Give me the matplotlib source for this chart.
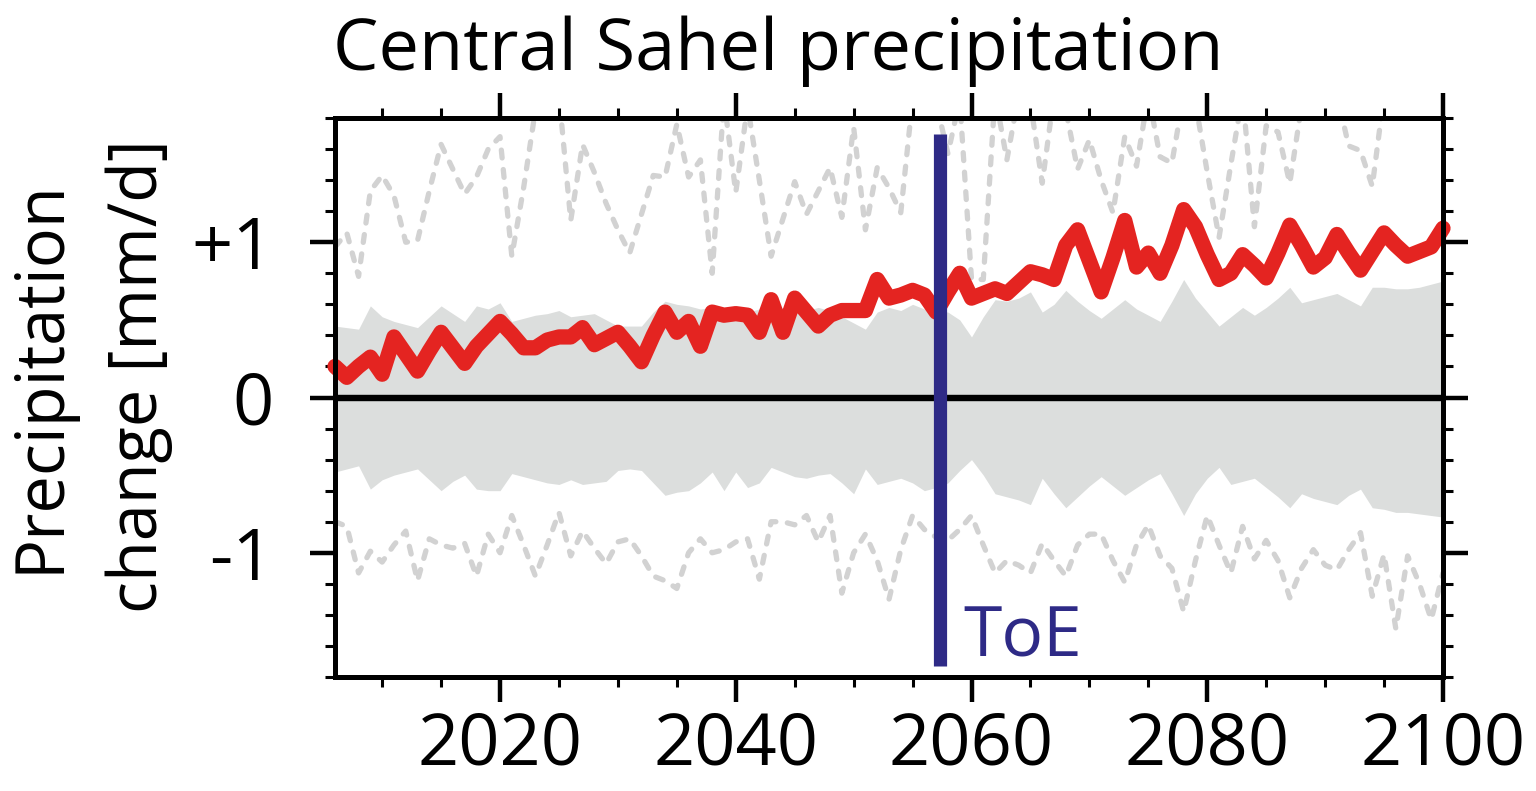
import numpy as np
import matplotlib
matplotlib.use("Agg")
import matplotlib.pyplot as plt
from matplotlib.ticker import MultipleLocator, FixedLocator, FixedFormatter

plt.rcParams['font.family'] = ['Open Sans', 'DejaVu Sans']

years = np.arange(2006, 2101)

# Multi-model mean precipitation change (mm/d)
mean_change = [
    0.20, 0.13, 0.20, 0.26,
    0.15, 0.39, 0.28, 0.17, 0.30, 0.42, 0.32, 0.22, 0.33, 0.41,
    0.49, 0.41, 0.32, 0.32, 0.37, 0.39, 0.39, 0.45, 0.34, 0.38,
    0.42, 0.33, 0.23, 0.40, 0.55, 0.42, 0.49, 0.33, 0.55, 0.53,
    0.54, 0.53, 0.42, 0.63, 0.42, 0.64, 0.55, 0.46, 0.53, 0.56,
    0.56, 0.56, 0.76, 0.64, 0.66, 0.69, 0.66, 0.55, 0.68, 0.80,
    0.64, 0.67, 0.70, 0.67, 0.74, 0.81, 0.79, 0.76, 0.98, 1.08,
    0.88, 0.68, 0.90, 1.14, 0.84, 0.93, 0.80, 0.98, 1.21, 1.10,
    0.92, 0.76, 0.80, 0.92, 0.85, 0.77, 0.93, 1.11, 0.98, 0.84,
    0.90, 1.05, 0.93, 0.82, 0.94, 1.06, 0.98, 0.91, 0.94, 0.97,
    1.09,
]

# Upper / lower extremes (dashed grey)
upper_extreme = [
    0.97, 1.06, 0.78, 1.33,
    1.43, 1.30, 1.00, 1.01, 1.33, 1.63, 1.47, 1.31, 1.42, 1.60,
    1.68, 0.91, 1.35, 1.85, 2.10, 1.95, 1.14, 1.63, 1.45, 1.25,
    1.08, 0.93, 1.18, 1.43, 1.42, 1.76, 1.42, 1.53, 0.80, 1.92,
    1.32, 1.88, 1.40, 0.91, 1.15, 1.39, 1.18, 1.33, 1.48, 1.16,
    1.74, 1.08, 1.48, 1.35, 1.19, 1.92, 2.00, 1.90, 1.57, 1.92,
    0.76, 0.76, 1.95, 1.53, 1.95, 1.90, 1.38, 1.95, 1.85, 1.47,
    1.66, 1.40, 1.19, 1.68, 1.49, 1.95, 1.55, 1.51, 1.95, 1.90,
    1.45, 1.03, 1.50, 1.95, 1.10, 1.75, 1.71, 1.38, 1.88, 2.00,
    2.10, 1.95, 1.62, 1.59, 1.36, 1.95, 2.00, 2.10, 2.00, 2.00,
    2.10,
]

lower_extreme = [
    -0.80, -0.83, -1.13, -0.99,
    -1.06, -0.95, -0.86, -1.18, -0.91, -0.95, -0.97, -0.94, -1.15, -0.88,
    -1.00, -0.76, -0.95, -1.15, -0.95, -0.74, -1.02, -0.86, -0.97, -1.07,
    -0.93, -0.91, -1.02, -1.15, -1.18, -1.23, -1.00, -0.91, -1.00, -0.98,
    -0.93, -0.91, -1.17, -0.80, -0.80, -0.82, -0.76, -0.93, -0.76, -1.26,
    -1.00, -0.88, -1.05, -1.30, -0.98, -0.76, -0.85, -0.90, -0.92, -0.85,
    -0.76, -0.95, -1.13, -1.05, -1.08, -1.13, -0.94, -1.05, -1.15, -0.95,
    -0.88, -0.88, -1.05, -1.19, -0.95, -0.82, -1.02, -1.10, -1.38, -1.05,
    -0.76, -0.95, -1.13, -0.83, -1.04, -0.92, -1.05, -1.29, -1.10, -0.98,
    -1.08, -1.11, -0.98, -0.87, -1.28, -1.01, -1.49, -1.02, -1.20, -1.43,
    -1.13,
]

# Internal variability envelope (grey band)
band_upper = [
    0.46, 0.45, 0.44, 0.59,
    0.52, 0.49, 0.47, 0.45, 0.52, 0.59, 0.54, 0.49, 0.59, 0.57,
    0.61, 0.49, 0.51, 0.53, 0.54, 0.56, 0.52, 0.53, 0.54, 0.50,
    0.46, 0.46, 0.46, 0.55, 0.62, 0.60, 0.59, 0.57, 0.58, 0.56,
    0.58, 0.55, 0.57, 0.56, 0.58, 0.55, 0.56, 0.58, 0.56, 0.52,
    0.48, 0.44, 0.55, 0.58, 0.56, 0.60, 0.57, 0.56, 0.55, 0.50,
    0.39, 0.52, 0.63, 0.62, 0.64, 0.68, 0.55, 0.60, 0.69, 0.62,
    0.56, 0.51, 0.57, 0.63, 0.57, 0.53, 0.49, 0.62, 0.76, 0.64,
    0.55, 0.46, 0.52, 0.58, 0.53, 0.58, 0.64, 0.71, 0.61, 0.63,
    0.65, 0.67, 0.63, 0.59, 0.71, 0.71, 0.70, 0.70, 0.71, 0.73,
    0.75,
]

band_lower = [
    -0.48, -0.46, -0.44, -0.59,
    -0.53, -0.50, -0.48, -0.46, -0.53, -0.60, -0.54, -0.50, -0.59, -0.60,
    -0.60, -0.49, -0.51, -0.53, -0.55, -0.56, -0.53, -0.56, -0.55, -0.54,
    -0.47, -0.46, -0.47, -0.55, -0.63, -0.61, -0.60, -0.55, -0.48, -0.60,
    -0.48, -0.58, -0.55, -0.45, -0.48, -0.51, -0.52, -0.50, -0.49, -0.55,
    -0.62, -0.46, -0.56, -0.54, -0.52, -0.55, -0.60, -0.58, -0.55, -0.47,
    -0.40, -0.50, -0.62, -0.64, -0.66, -0.69, -0.52, -0.62, -0.71, -0.64,
    -0.57, -0.51, -0.57, -0.63, -0.58, -0.53, -0.49, -0.62, -0.76, -0.62,
    -0.52, -0.45, -0.56, -0.54, -0.52, -0.58, -0.64, -0.71, -0.62, -0.65,
    -0.67, -0.69, -0.63, -0.59, -0.71, -0.72, -0.74, -0.74, -0.75, -0.76,
    -0.77,
]

toe_year = 2057.3
toe_span = (-1.73, 1.70)

x_major = [2020, 2040, 2060, 2080, 2100]
x_labels = ['2020', '2040', '2060', '2080', '2100']
y_major = [-1, 0, 1]
y_labels = ['-1', '0', '+1']

W, H = 1536, 791
fig = plt.figure(figsize=(W / 100, H / 100), dpi=100)
ax = fig.add_axes([335 / W, 1 - 677 / H, (1443 - 335) / W, (677 - 118) / H])

ax.fill_between(years, band_lower, band_upper, color='#dcdedd', lw=0, zorder=1)
ax.axhline(0, color='black', lw=4.6, zorder=3)
dash_kw = dict(color='#d2d2d2', lw=3.8, dashes=(1.5, 2.2), dash_capstyle='round',
               solid_joinstyle='round', zorder=2)
ax.plot(years, upper_extreme, **dash_kw)
ax.plot(years, lower_extreme, **dash_kw)
ax.plot(years, mean_change, color='#e42421', lw=11, solid_capstyle='round',
        solid_joinstyle='round', zorder=5, clip_on=False)
ax.plot([toe_year, toe_year], toe_span, color='#2e2a86', lw=9.5, zorder=6,
        solid_capstyle='butt')
ax.text(toe_year + 2.0, -1.67, 'ToE', color='#2e2a86', fontsize=50,
        ha='left', va='baseline', zorder=7)

ax.set_xlim(2006, 2100)
ax.set_ylim(-1.8, 1.8)

ax.xaxis.set_major_locator(FixedLocator(x_major))
ax.xaxis.set_major_formatter(FixedFormatter(x_labels))
ax.xaxis.set_minor_locator(MultipleLocator(5))
ax.yaxis.set_major_locator(FixedLocator(y_major))
ax.yaxis.set_major_formatter(FixedFormatter(y_labels))
ax.yaxis.set_minor_locator(MultipleLocator(0.2))

ax.tick_params(which='major', direction='out', length=18, width=3.2,
               top=True, right=True, labelsize=52, colors='black')
ax.tick_params(which='minor', direction='out', length=7.5, width=2.2,
               top=True, right=True)
ax.tick_params(axis='x', which='major', pad=6)
ax.tick_params(axis='y', which='major', pad=26)

for s in ax.spines.values():
    s.set_linewidth(3.6)
    s.set_zorder(8)

fig.text(333 / W, 1 - 70 / H, 'Central Sahel precipitation', fontsize=52,
         ha='left', va='baseline')
fig.text(90 / W, 1 - 376 / H, 'Precipitation\nchange [mm/d]', fontsize=48,
         rotation=90, ha='center', va='center', linespacing=1.6, multialignment='center')

fig.savefig('out.png', dpi=100)
